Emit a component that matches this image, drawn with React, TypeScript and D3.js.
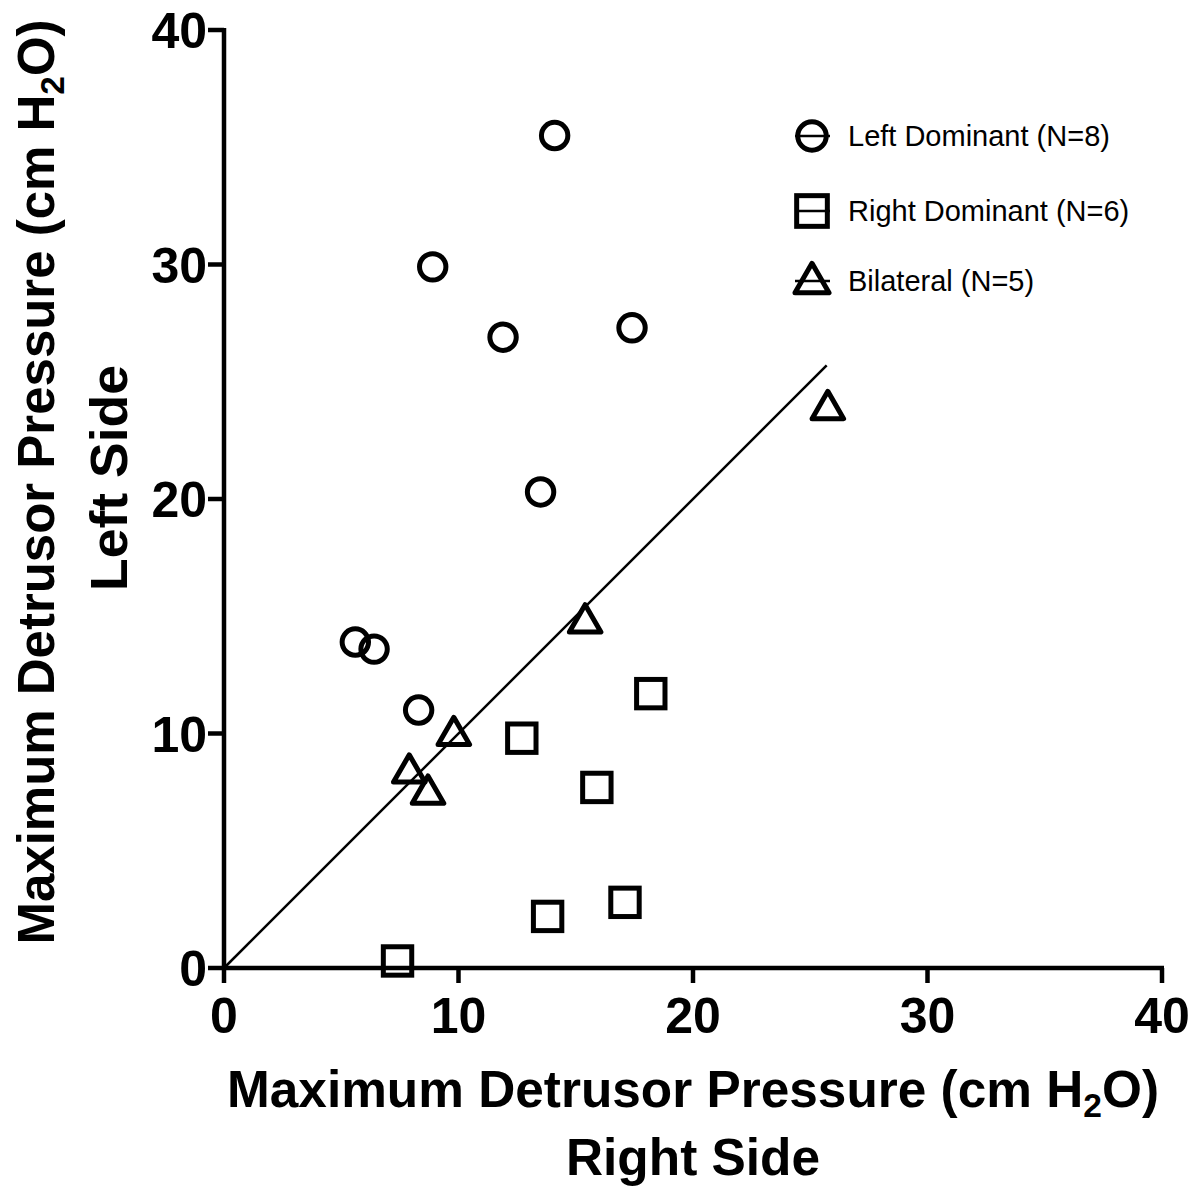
import React from 'react';
import * as d3 from 'd3';

// Left dominant (circles)
const leftX = [14.1, 8.9, 11.9, 17.4, 13.5, 5.6, 6.4, 8.3];
const leftY = [35.5, 29.9, 26.9, 27.3, 20.3, 13.9, 13.6, 11.0];
// Right dominant (squares)
const rightX = [18.2, 12.7, 15.9, 17.1, 13.8, 7.4];
const rightY = [11.7, 9.8, 7.7, 2.8, 2.2, 0.3];
// Bilateral (triangles)
const bilatX = [15.4, 9.8, 7.9, 8.7, 25.75];
const bilatY = [14.8, 10.0, 8.4, 7.5, 23.9];
// line of identity
const lineX = [0, 25.7];
const lineY = [0, 25.7];

const ticks = [0, 10, 20, 30, 40];
const legendLabels = ['Left Dominant (N=8)', 'Right Dominant (N=6)', 'Bilateral (N=5)'];

const W = 1201;
const H = 1190;
const margin = { top: 30, right: 39, bottom: 222, left: 224 };

const x = d3.scaleLinear().domain([0, 40]).range([margin.left, W - margin.right]);
const y = d3.scaleLinear().domain([0, 40]).range([H - margin.bottom, margin.top]);

const tickFont = '"Liberation Sans", Arial, Helvetica, sans-serif';

const Marker = ({ kind, cx, cy, s = 1 }: { kind: string; cx: number; cy: number; s?: number }) => {
  if (kind === 'circle') return <circle cx={cx} cy={cy} r={13.2 * s} fill="none" stroke="#000" strokeWidth={5} />;
  if (kind === 'square') {
    const h = 14.2 * s;
    return <rect x={cx - h} y={cy - h} width={2 * h} height={2 * h} fill="none" stroke="#000" strokeWidth={5} />;
  }
  const sym = d3.symbol().type(d3.symbolTriangle).size(430 * s * s)();
  return (
    <path d={sym as string} transform={`translate(${cx},${cy + 2})`} fill="none" stroke="#000" strokeWidth={5} strokeLinejoin="round" />
  );
};

export default function App() {
  const line = d3.line<number>().x((d) => x(d)).y((_, i) => y(lineY[i]));
  const series = [
    { kind: 'circle', xs: leftX, ys: leftY },
    { kind: 'square', xs: rightX, ys: rightY },
    { kind: 'triangle', xs: bilatX, ys: bilatY },
  ];
  const legendRows = [136, 211, 281];
  const x0 = x(0);
  const y0 = y(0);

  return (
    <svg width={W} height={H} style={{ position: 'absolute', left: 0, top: 0, background: '#fff' }} fontFamily={tickFont}>
      <rect width={W} height={H} fill="#fff" />
      {/* identity line */}
      <path d={line(lineX) as string} fill="none" stroke="#000" strokeWidth={2.5} />

      {/* axes */}
      <line x1={x0} x2={x(40) + 2} y1={y0} y2={y0} stroke="#000" strokeWidth={4.5} />
      <line x1={x0} x2={x0} y1={y(40) - 2} y2={y0 + 2} stroke="#000" strokeWidth={4.5} />
      {ticks.map((t) => (
        <g key={'x' + t}>
          <line x1={x(t)} x2={x(t)} y1={y0} y2={y0 + 15} stroke="#000" strokeWidth={4.5} />
          <text x={x(t)} y={y0 + 65} textAnchor="middle" fontSize={50} fontWeight="bold">{t}</text>
        </g>
      ))}
      {ticks.map((t) => (
        <g key={'y' + t}>
          <line x1={x0 - 16} x2={x0} y1={y(t)} y2={y(t)} stroke="#000" strokeWidth={4.5} />
          <text x={x0 - 17} y={y(t) + 18} textAnchor="end" fontSize={50} fontWeight="bold">{t}</text>
        </g>
      ))}

      {/* points */}
      {series.map((s) =>
        s.xs.map((v, i) => <Marker key={s.kind + i} kind={s.kind} cx={x(v)} cy={y(s.ys[i])} />)
      )}

      {/* legend */}
      {series.map((s, i) => (
        <g key={'lg' + i}>
          <line x1={795} x2={830} y1={legendRows[i]} y2={legendRows[i]} stroke="#000" strokeWidth={2.5} />
          <Marker kind={s.kind} cx={812} cy={legendRows[i]} s={1.08} />
          <text x={848} y={legendRows[i] + 10} fontSize={29}>{legendLabels[i]}</text>
        </g>
      ))}

      {/* x axis title */}
      <text x={(x(0) + x(40)) / 2} y={1107} textAnchor="middle" fontSize={52} fontWeight="bold" textLength={932} lengthAdjust="spacingAndGlyphs">
        Maximum Detrusor Pressure (cm H<tspan fontSize={34} dy={10}>2</tspan><tspan dy={-10}>O)</tspan>
      </text>
      <text x={(x(0) + x(40)) / 2} y={1175} textAnchor="middle" fontSize={52} fontWeight="bold" textLength={254} lengthAdjust="spacingAndGlyphs">
        Right Side
      </text>

      {/* y axis title */}
      <g transform="translate(54,482) rotate(-90)">
        <text x={0} y={0} textAnchor="middle" fontSize={52} fontWeight="bold" textLength={925} lengthAdjust="spacingAndGlyphs">
          Maximum Detrusor Pressure (cm H<tspan fontSize={34} dy={10}>2</tspan><tspan dy={-10}>O)</tspan>
        </text>
      </g>
      <g transform="translate(127,478) rotate(-90)">
        <text x={0} y={0} textAnchor="middle" fontSize={52} fontWeight="bold" textLength={226} lengthAdjust="spacingAndGlyphs">
          Left Side
        </text>
      </g>
    </svg>
  );
}
